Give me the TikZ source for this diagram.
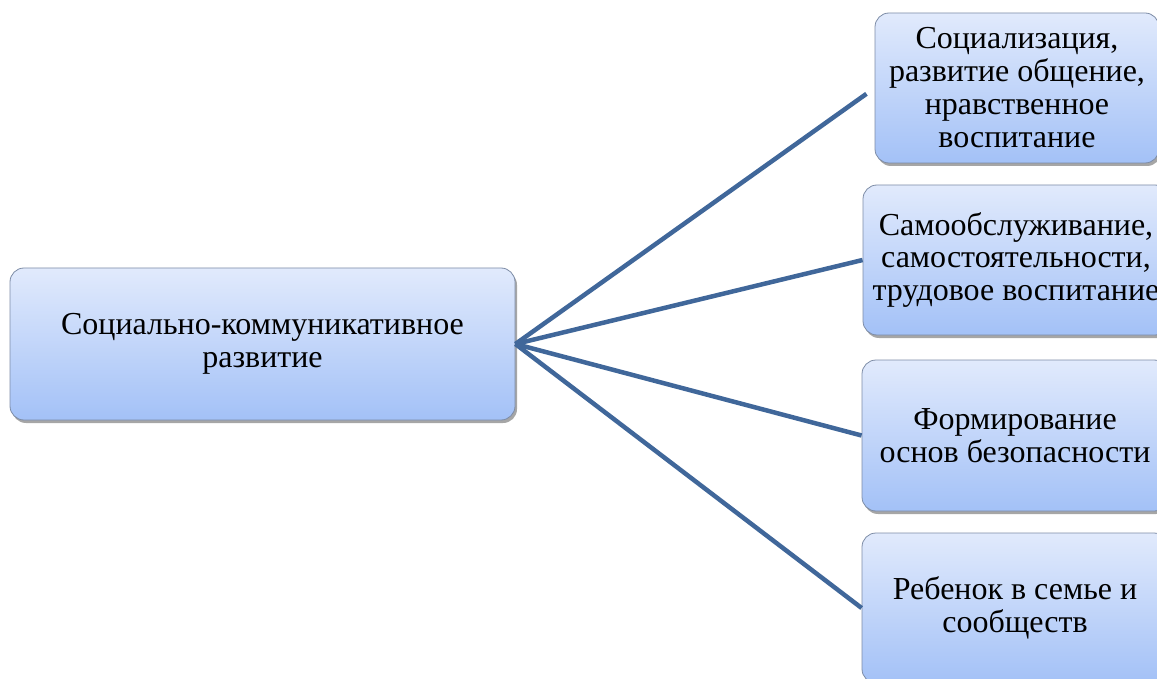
\documentclass[tikz,border=0pt]{standalone}
\usepackage{fontspec}
\setmainfont{Liberation Serif}
\usetikzlibrary{shadows}
\definecolor{linec}{HTML}{40679A}
\definecolor{topc}{HTML}{E1EAFC}
\definecolor{botc}{HTML}{A3C1F7}
\definecolor{edgec}{HTML}{7D8CA6}
\tikzset{
  box/.style={draw=edgec, line width=0.8pt, rounded corners=14pt, top color=topc, bottom color=botc,
    drop shadow={shadow xshift=2pt, shadow yshift=-3pt, fill=black, opacity=0.35},
    align=center, inner sep=0pt, font=\fontsize{32}{33}\selectfont},
  conn/.style={draw=linec, line width=4.5pt}
}
\begin{document}
\begin{tikzpicture}[x=1pt,y=-1pt]
\useasboundingbox (0,0) rectangle (1157,679);
\clip (0,0) rectangle (1157,679);
\node[box, minimum width=505pt, minimum height=152pt] (L) at (262.5,344) {Социально-коммуникативное\\развитие};
\node[box, minimum width=284pt, minimum height=150pt] (b1) at (1017,88) {Социализация,\\развитие общение,\\нравственное\\воспитание};
\node[box, minimum width=306pt, minimum height=150pt] (b2) at (1016,260) {Самообслуживание,\\самостоятельности,\\трудовое воспитание};
\node[box, minimum width=306pt, minimum height=151pt] (b3) at (1015,435.5) {Формирование\\основ безопасности};
\node[box, minimum width=306pt, minimum height=150pt] (b4) at (1015,608) {Ребенок в семье и\\сообществ};
\draw[conn, shorten >=10pt] (L.east) -- (b1.west);
\draw[conn] (L.east) -- (b2.west);
\draw[conn] (L.east) -- (b3.west);
\draw[conn] (L.east) -- (b4.west);
\end{tikzpicture}
\end{document}
